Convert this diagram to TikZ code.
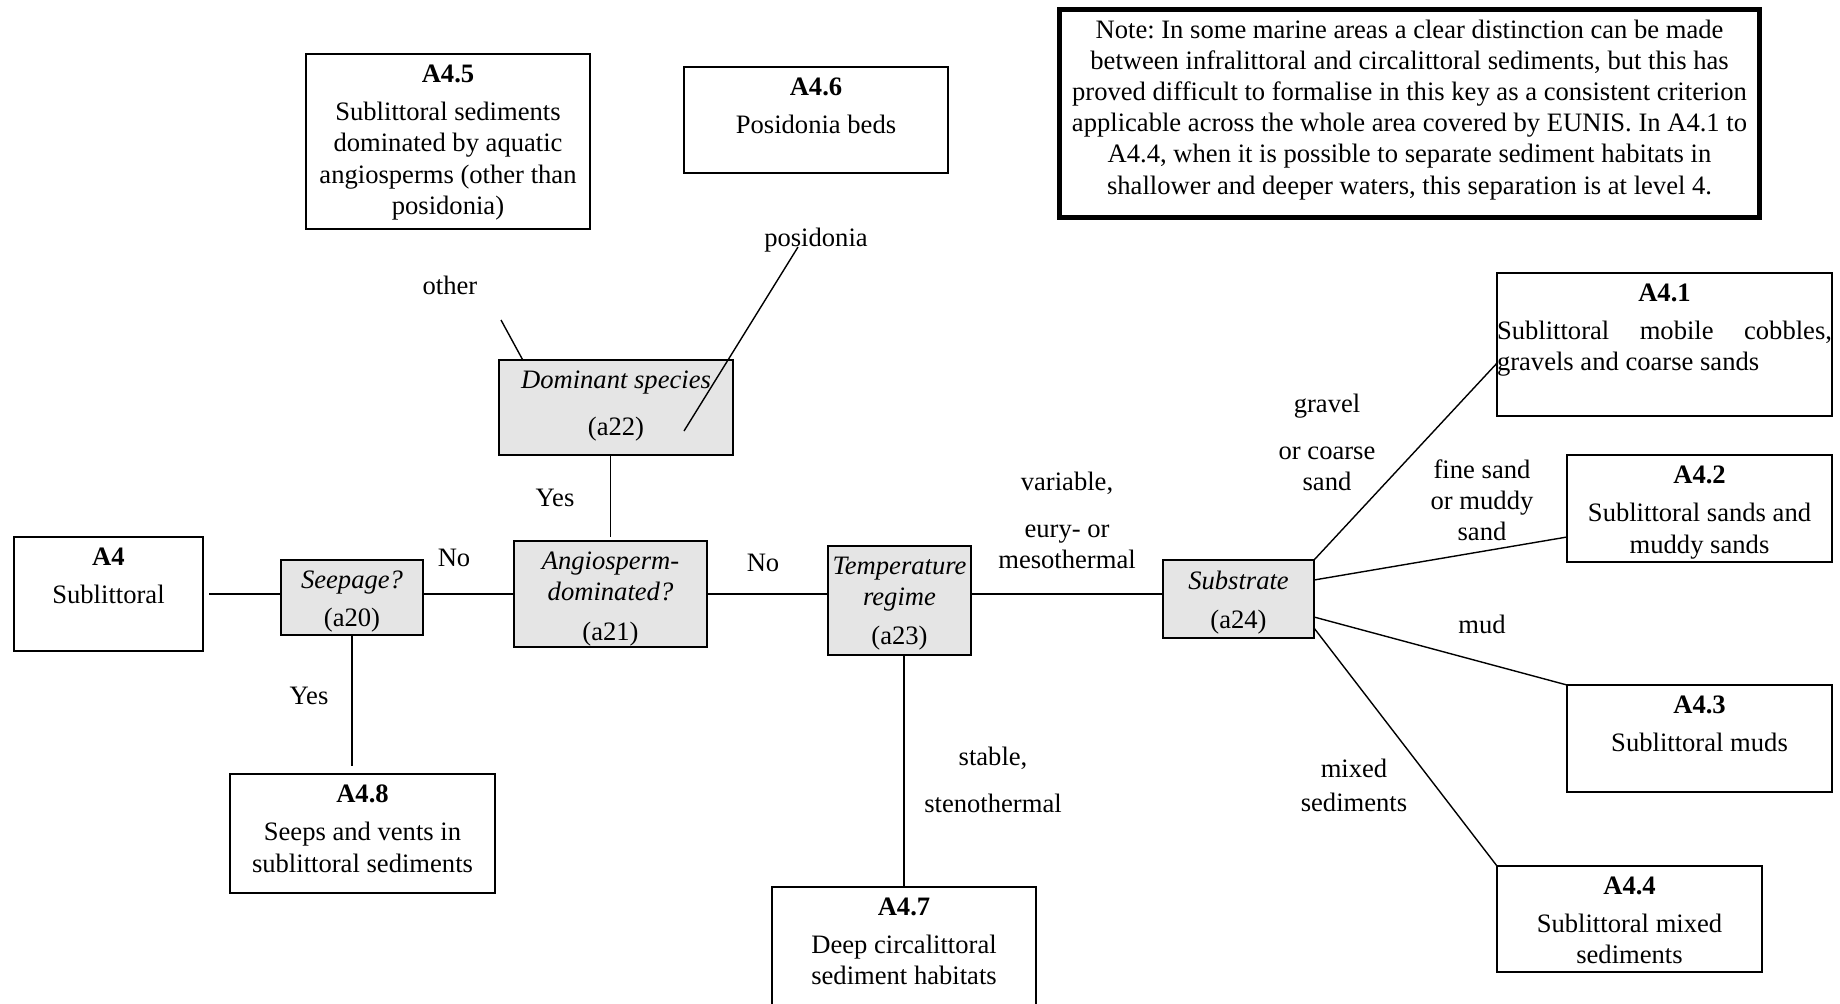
\documentclass[tikz,border=0pt]{standalone}
\usepackage{fontspec}
\setmainfont{Liberation Serif}
\usetikzlibrary{positioning, calc}
\definecolor{GrisClaro}{rgb}{0.9, 0.9, 0.9}
\def\s{0.5pt}
\newcommand{\letra}{\fontsize{13.3}{15.6}\selectfont}
\frenchspacing

\begin{document}
\begin{tikzpicture}[x=\s, y=-\s, font=\letra,
    caja/.style={draw, line width=0.9pt, inner sep=0pt, outer sep=0pt, anchor=north west},
    pregunta/.style={caja, fill=GrisClaro},
    texto/.style={inner sep=0pt, align=center},
    conector/.style={line width=0.7pt}]

\useasboundingbox (0,0) rectangle (1840,1003);

% cajas: nombre/x/y/ancho/alto
\foreach \n/\x/\y/\w/\h in {A4/14/537/189/114, A45/306/54/284/175, A46/684/67/264/106,
    A48/230/774/265/119, A47/772/887/264/140, A41/1497/273/335/143,
    A42/1567/455/265/107, A43/1567/685/265/107, A44/1497/866/265/106}{
    \node[caja, minimum width=\w*\s, minimum height=\h*\s] (\n) at (\x,\y) {};
}

% preguntas
\foreach \n/\x/\y/\w/\h in {a20/281/560/142/75, a21/514/541/193/106, a22/499/360/234/95,
    a23/828/546/143/109, a24/1163/560/151/78}{
    \node[pregunta, minimum width=\w*\s, minimum height=\h*\s] (\n) at (\x,\y) {};
}

% nota
\node[caja, line width=2.5pt, minimum width=700*\s, minimum height=208*\s] (nota) at (1059.5,9.5) {};
\node[texto, below=4.9pt of nota.north] (tnota)
    {Note: In some marine areas a clear distinction can be made\\
     between infralittoral and circalittoral sediments, but this has\\
     proved difficult to formalise in this key as a consistent criterion\\
     applicable across the whole area covered by EUNIS. In A4.1 to\\
     A4.4, when it is possible to separate sediment habitats in\\
     shallower and deeper waters, this separation is at level 4.};

% textos de las cajas
\foreach \n/\ti/\txt in {A4/A4/Sublittoral,
    A45/A4.5/{Sublittoral sediments\\dominated by aquatic\\angiosperms (other than\\posidonia)},
    A46/A4.6/Posidonia beds,
    A48/A4.8/{Seeps and vents in\\sublittoral sediments},
    A47/A4.7/{Deep circalittoral\\sediment habitats},
    A42/A4.2/{Sublittoral sands and\\muddy sands},
    A43/A4.3/Sublittoral muds,
    A44/A4.4/{Sublittoral mixed\\sediments}}{
    \node[texto, below=5.1pt of \n.north] (t\n) {\textbf{\ti}\\[3.7pt]\txt};
}
\node[texto, below=5.1pt of A41.north, text width=335*\s, align=justify] (tA41)
    {\centerline{\textbf{A4.1}}\vskip3.7pt Sublittoral mobile cobbles,\linebreak gravels and coarse sands};

\node[texto, below=5.1pt of a20.north] (ta20) {\textit{Seepage?}\\[3.4pt](a20)};
\node[texto, below=5.1pt of a21.north] (ta21) {\textit{Angiosperm-}\\\textit{dominated?}\\[4.4pt](a21)};
\node[texto, below=5.1pt of a22.north] (ta22) {\textit{Dominant species}\\[7.9pt](a22)};
\node[texto, below=5.1pt of a23.north] (ta23) {\textit{Temperature}\\\textit{regime}\\[3.9pt](a23)};
\node[texto, below=5.1pt of a24.north] (ta24) {\textit{Substrate}\\[3.9pt](a24)};

% conectores
\coordinate (otro) at (501,320);
\coordinate (posi) at (798,247);
\draw[conector, shorten <=3pt] (A4.east) -- (A4.east -| a20.west);
\draw[conector] (a20.east |- A4.east) -- (a21.west |- A4.east);
\draw[conector] (a21.east) -- (a21.east -| a23.west);
\draw[conector] (a23.east |- a21.east) -- (a24.west |- a21.east);
\draw[conector, shorten >=4pt] (a20.south) -- (a20.south |- A48.north);
\draw[conector, shorten >=2pt] (a22.south -| a21.north) -- (a21.north);
\draw[conector] (a22.153) -- (otro);
\draw[conector] ($(a22.center)+(68,23.5)$) -- (posi);
\draw[conector] (a23.south -| A47.north) -- (A47.north);
\draw[conector] (a24.north east) -- ($(A41.south west)!0.37!(A41.north west)$);
\draw[conector] ($(a24.east)+(0,-19)$) -- ($(A42.west)+(0,28.5)$);
\draw[conector] ($(a24.east)+(0,18)$) -- (A43.north west);
\draw[conector] ($(a24.east)+(0,29)$) -- (A44.north west);

% etiquetas
\foreach \n/\x/\y/\txt in {lOther/450/285/other, lPosi/816/240/posidonia,
    lYes1/555/498/Yes, lNo1/454/558/No, lNo2/763/563/No, lYes2/309/696/Yes,
    lVar/1067/520/{variable,\\[7.9pt]eury- or\\mesothermal},
    lStab/993/780/{stable,\\[7.9pt]stenothermal},
    lGrav/1327/442/{gravel\\[7.9pt]or coarse\\sand},
    lFine/1482/500/{fine sand\\or muddy\\sand},
    lMud/1482/624/mud,
    lMixed/1354/785/{mixed\\[1.4pt]sediments}}{
    \node[texto] (\n) at (\x,\y) {\txt};
}

\end{tikzpicture}
\end{document}
